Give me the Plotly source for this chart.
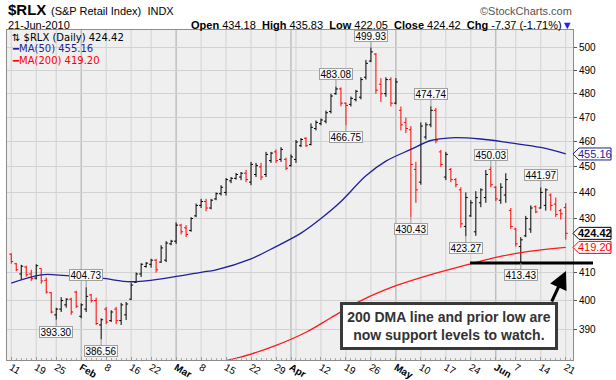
import math
import pandas as pd
import plotly.graph_objects as go

# ---------------- data ----------------
holidays = ["2010-01-18", "2010-02-15", "2010-04-02", "2010-05-31"]
trading_days = [d.strftime("%Y-%m-%d") for d in pd.bdate_range("2010-01-11", "2010-06-21")
                if d.strftime("%Y-%m-%d") not in holidays]

opens = [
    416.7, 413.2, 409.5, 412.0, 409.5, 408.0, 411.5, 407.2, 402.8, 395.0,
    397.0, 398.5, 400.5, 403.0, 394.5, 397.0, 402.0, 400.0, 391.5, 397.0,
    393.0, 397.0, 393.0, 395.0, 400.5, 406.5, 409.5, 412.2, 413.0, 414.5,
    413.8, 414.5, 420.5, 421.5, 427.5, 426.5, 425.5, 431.0, 435.0, 436.5,
    434.0, 437.5, 439.5, 440.0, 444.5, 445.5, 446.0, 447.5, 444.0, 447.0,
    450.0, 447.0, 452.5, 456.0, 453.0, 453.0, 450.5, 453.0, 458.5, 461.5,
    459.0, 465.5, 467.5, 468.5, 472.5, 480.0, 482.0, 476.0, 475.5, 477.5,
    478.5, 487.0, 494.0, 497.0, 484.0, 480.0, 486.0, 476.0, 473.0, 468.0,
    465.0, 449.0, 444.0, 462.0, 467.0, 473.0, 456.0, 446.0, 449.0, 445.0,
    441.0, 427.0, 431.0, 425.0, 436.0, 438.0, 449.0, 442.0, 437.0, 439.0,
    433.0, 426.0, 419.5, 423.5, 426.0, 434.5, 434.0, 435.0, 439.0, 435.5,
    433.0, 434.18]

highs = [
    417.0, 413.5, 412.8, 412.5, 411.0, 413.0, 411.5, 408.2, 403.0, 397.5,
    401.2, 400.8, 401.0, 403.5, 399.0, 404.73, 402.4, 401.0, 393.8, 397.8,
    396.6, 397.8, 399.2, 399.5, 406.3, 410.0, 413.4, 413.8, 415.0, 415.0,
    420.0, 421.5, 422.0, 428.5, 428.0, 427.5, 430.5, 435.7, 437.5, 437.5,
    437.5, 440.0, 442.8, 445.6, 446.0, 447.6, 448.0, 448.8, 452.0, 451.6,
    451.6, 456.0, 456.0, 457.0, 457.9, 453.7, 455.0, 460.8, 461.6, 462.0,
    467.6, 468.8, 469.6, 472.9, 480.0, 483.08, 482.7, 476.3, 478.8, 481.6,
    487.0, 494.5, 499.93, 497.5, 486.6, 487.0, 487.0, 486.6, 474.6, 470.0,
    466.5, 452.0, 468.0, 468.0, 474.74, 474.0, 456.8, 456.0, 449.6, 445.6,
    442.0, 440.0, 437.0, 440.5, 441.6, 448.8, 450.03, 442.5, 443.6, 447.5,
    434.0, 426.5, 423.0, 431.0, 435.0, 435.0, 441.97, 441.6, 439.6, 438.0,
    433.7, 435.83]

lows = [
    413.2, 410.5, 407.5, 408.5, 407.0, 407.5, 406.0, 402.5, 395.5, 393.3,
    396.0, 397.5, 395.0, 397.4, 393.8, 396.0, 399.3, 391.5, 386.56, 391.8,
    392.5, 391.8, 391.5, 393.2, 400.2, 406.3, 408.4, 411.8, 411.8, 410.0,
    413.5, 413.8, 420.0, 420.5, 424.0, 423.0, 425.0, 430.5, 434.0, 432.8,
    433.5, 437.0, 438.8, 438.8, 443.6, 445.0, 444.8, 444.0, 442.8, 446.0,
    444.8, 446.0, 451.6, 451.6, 452.0, 448.8, 450.1, 451.6, 457.9, 458.0,
    458.6, 464.7, 466.8, 467.6, 471.7, 479.5, 474.7, 466.75, 474.6, 476.7,
    477.6, 486.0, 493.5, 480.0, 476.5, 478.7, 474.6, 475.5, 464.7, 463.6,
    430.43, 436.0, 443.0, 461.0, 466.0, 459.5, 450.0, 444.8, 444.0, 442.0,
    426.5, 423.27, 430.6, 423.5, 434.3, 436.0, 442.0, 436.7, 435.6, 436.0,
    426.0, 419.5, 413.43, 423.0, 424.6, 432.0, 433.8, 433.0, 433.0, 430.6,
    429.6, 422.05]

closes = [
    414.0, 411.0, 412.3, 409.2, 407.8, 412.5, 407.0, 403.0, 396.0, 397.0,
    400.0, 400.5, 396.0, 398.0, 398.5, 401.5, 400.0, 392.0, 393.3, 392.5,
    396.0, 393.0, 398.5, 398.8, 405.5, 409.5, 413.0, 413.4, 414.5, 411.0,
    419.0, 420.8, 421.5, 427.5, 425.0, 424.0, 430.0, 435.0, 436.5, 434.0,
    437.0, 439.5, 442.0, 445.0, 445.5, 447.0, 447.5, 445.0, 451.0, 450.5,
    446.0, 455.0, 455.5, 452.5, 457.0, 449.5, 454.0, 460.0, 461.0, 458.5,
    466.0, 468.0, 469.0, 472.0, 479.0, 482.0, 476.0, 475.0, 478.0, 481.0,
    486.0, 493.0, 498.0, 481.5, 480.0, 486.0, 476.0, 485.0, 467.0, 465.5,
    451.0, 441.0, 466.5, 467.0, 473.0, 460.5, 451.0, 455.0, 445.0, 443.0,
    428.0, 438.0, 436.0, 438.0, 441.0, 447.0, 443.0, 437.5, 442.0, 445.0,
    427.0, 420.5, 422.0, 430.0, 434.0, 432.5, 440.0, 441.0, 435.0, 431.5,
    431.79, 424.42]

ma50_dates = ["2010-01-11", "2010-01-20", "2010-01-27", "2010-02-05", "2010-02-16", "2010-02-25",
              "2010-03-08", "2010-03-11", "2010-03-22", "2010-03-29", "2010-04-06", "2010-04-12",
              "2010-04-16", "2010-04-23", "2010-04-29", "2010-05-06", "2010-05-12", "2010-05-18",
              "2010-05-26", "2010-06-04", "2010-06-14", "2010-06-21"]
ma50_values = [406.2, 409.2, 408.9, 408.0, 406.7, 408.0,
               410.1, 411.0, 415.0, 419.5, 424.5, 430.0,
               436.5, 446.5, 452.3, 457.0, 460.6, 461.7,
               461.2, 459.6, 457.8, 455.16]

ma200_dates = ["2010-03-12", "2010-03-22", "2010-03-29", "2010-04-07", "2010-04-14", "2010-04-22",
               "2010-05-03", "2010-05-12", "2010-05-21", "2010-06-01", "2010-06-10", "2010-06-21"]
ma200_values = [379.0, 381.6, 384.5, 389.0, 394.0, 400.0,
                405.3, 409.3, 412.7, 415.5, 417.8, 419.20]

tick_dates = ["2010-01-11", "2010-01-19", "2010-01-25", "2010-02-01", "2010-02-08", "2010-02-16",
              "2010-02-22", "2010-03-01", "2010-03-08", "2010-03-15", "2010-03-22", "2010-03-29",
              "2010-04-01", "2010-04-12", "2010-04-19", "2010-04-26", "2010-05-03", "2010-05-10",
              "2010-05-17", "2010-05-24", "2010-06-01", "2010-06-07", "2010-06-14", "2010-06-21"]
tick_text = ["11", "19", "25", "<b>Feb</b>", "8", "16", "22", "<b>Mar</b>", "8", "15", "22", "29",
             "<b>Apr</b>", "12", "19", "26", "<b>May</b>", "10", "17", "24", "<b>Jun</b>", "7", "14", "21"]

ytick_values = [390, 400, 410, 430, 440, 450, 460, 470, 480, 490, 500]

label_dates = ["2010-04-26", "2010-04-15", "2010-04-19", "2010-05-12", "2010-05-06", "2010-05-28",
               "2010-05-21", "2010-06-14", "2010-06-08", "2010-02-02", "2010-01-25", "2010-02-05"]
label_values = [499.93, 483.08, 466.75, 474.74, 430.43, 450.03,
                423.27, 441.97, 413.43, 404.73, 393.30, 386.56]
label_side = ["H", "H", "L", "H", "L", "H", "L", "H", "L", "H", "L", "L"]

tag_values = [455.16, 424.42, 419.20]
tag_colors = ["#1f1f9a", "#000000", "#ff0000"]

support_level = 413.43

# ---------------- geometry ----------------
W_FIG, H_FIG = 616, 380
L, R, T, B = 7, 43, 30, 20
PW = W_FIG - L - R
PH = H_FIG - T - B
y_top, y_bot = 507.7, 379.6
k_ln = PH / math.log(y_top / y_bot)


def px(xp):
    return (xp - L) / PW


def py(yp):
    return (H_FIG - B - yp) / PH


idx = {d: i for i, d in enumerate(trading_days)}
xi = list(range(len(trading_days)))

FONT = "Liberation Sans, Arial, sans-serif"

fig = go.Figure()

# grid lines (weeks light, months dark)
shapes = []
week_lines, month_lines = [], []
for i, d in enumerate(trading_days):
    ts = pd.Timestamp(d)
    if i == 0:
        week_lines.append(i)
        continue
    pts = pd.Timestamp(trading_days[i - 1])
    if ts.month != pts.month:
        month_lines.append(i)
    if ts.isocalendar()[1] != pts.isocalendar()[1]:
        week_lines.append(i)
for i in week_lines:
    if i in month_lines:
        continue
    shapes.append(dict(type="line", xref="x", yref="paper", x0=i, x1=i, y0=0, y1=1,
                       line=dict(color="#d2d2d2", width=1), layer="below"))
for i in month_lines:
    shapes.append(dict(type="line", xref="x", yref="paper", x0=i, x1=i, y0=0, y1=1,
                       line=dict(color="#a8a8a8", width=1), layer="below"))

fig.add_trace(go.Ohlc(
    x=xi, open=opens, high=highs, low=lows, close=closes,
    increasing=dict(line=dict(color="black", width=1)),
    decreasing=dict(line=dict(color="red", width=1)),
    tickwidth=0.4, hoverinfo="skip"))

fig.add_trace(go.Scatter(x=[idx[d] for d in ma50_dates], y=ma50_values, mode="lines",
                         line=dict(color="#1f1f9a", width=1.3, shape="spline"), hoverinfo="skip"))
fig.add_trace(go.Scatter(x=[idx[d] for d in ma200_dates], y=ma200_values, mode="lines",
                         line=dict(color="#ff1a1a", width=1.3, shape="spline"), hoverinfo="skip"))

annotations = []

# high/low value labels
for d, v, s in zip(label_dates, label_values, label_side):
    annotations.append(dict(
        x=idx[d], y=math.log10(v), xref="x", yref="y", text=f"{v:.2f}",
        showarrow=True, arrowhead=0, arrowwidth=1, arrowcolor="#9a9a9a", standoff=0,
        ax=0, ay=-12 if s == "H" else 12,
        font=dict(family=FONT, size=10, color="black"),
        bgcolor="#fafafa", bordercolor="#a0a0a0", borderwidth=1, borderpad=0,
        width=32, height=10))

# right-side price tags
for v, c in zip(tag_values, tag_colors):
    h = 6.0
    yu = v * math.exp(h / k_ln)
    yd = v * math.exp(-h / k_ln)
    path = (f"M {px(573)},{v} L {px(579)},{yu} L {px(611)},{yu} "
            f"L {px(611)},{yd} L {px(579)},{yd} Z")
    shapes.append(dict(type="path", xref="paper", yref="y", path=path,
                       fillcolor="white", line=dict(color=c, width=1), layer="above"))
    txt = f"<b>{v:.2f}</b>" if c == "#000000" else f"{v:.2f}"
    annotations.append(dict(x=px(595), y=math.log10(v), xref="paper", yref="y", text=txt,
                            showarrow=False, xanchor="center", yanchor="middle",
                            font=dict(family=FONT, size=11, color=c)))

# support line
shapes.append(dict(type="line", xref="paper", yref="y", x0=px(470), x1=px(593),
                   y0=support_level, y1=support_level, line=dict(color="black", width=3),
                   layer="above"))

# arrow
annotations.append(dict(x=px(566), y=py(271), xref="paper", yref="paper", text="",
                        showarrow=True, arrowhead=2, arrowsize=1.2, arrowwidth=3,
                        arrowcolor="black", ax=-15, ay=32, standoff=0))

# comment box
annotations.append(dict(x=px(449), y=py(326), xref="paper", yref="paper",
                        text="<b>200 DMA line and prior low are<br>now support levels to watch.</b>",
                        showarrow=False, align="center", xanchor="center", yanchor="middle",
                        font=dict(family=FONT, size=14, color="#333333"),
                        bgcolor="white", bordercolor="#3a3a3a", borderwidth=3, borderpad=0,
                        width=212, height=42))

# in-plot legend
LEG = "DejaVu Sans, Verdana, sans-serif"
annotations.append(dict(x=px(10), y=py(37), xref="paper", yref="paper", xanchor="left",
                        yanchor="middle", showarrow=False,
                        text="⇅ $RLX (Daily) 424.42",
                        font=dict(family=LEG, size=10, color="black")))
annotations.append(dict(x=px(10), y=py(48.5), xref="paper", yref="paper", xanchor="left",
                        yanchor="middle", showarrow=False,
                        text="<b>━</b>MA(50) 455.16",
                        font=dict(family=LEG, size=10, color="#1f1f9a")))
annotations.append(dict(x=px(10), y=py(60), xref="paper", yref="paper", xanchor="left",
                        yanchor="middle", showarrow=False,
                        text="<b>━</b>MA(200) 419.20",
                        font=dict(family=LEG, size=10, color="#ff0000")))

# header
annotations.append(dict(x=px(6), y=py(9.5), xref="paper", yref="paper", xanchor="left",
                        yanchor="middle", showarrow=False,
                        text="<b>$RLX</b>",
                        font=dict(family=FONT, size=15, color="black")))
annotations.append(dict(x=px(49), y=py(10.5), xref="paper", yref="paper", xanchor="left",
                        yanchor="middle", showarrow=False,
                        text="(S&P Retail Index)  INDX",
                        font=dict(family=FONT, size=11, color="black")))
annotations.append(dict(x=px(574), y=py(10.5), xref="paper", yref="paper", xanchor="right",
                        yanchor="middle", showarrow=False,
                        text="©StockCharts.com",
                        font=dict(family=FONT, size=11, color="#555555")))
annotations.append(dict(x=px(6), y=py(25), xref="paper", yref="paper", xanchor="left",
                        yanchor="middle", showarrow=False,
                        text="21-Jun-2010",
                        font=dict(family=FONT, size=11, color="black")))
annotations.append(dict(x=px(575), y=py(25), xref="paper", yref="paper", xanchor="right",
                        yanchor="middle", showarrow=False,
                        text=("<b>Open</b> 434.18  <b>High</b> 435.83  <b>Low</b> 422.05  "
                              "<b>Close</b> 424.42  <b>Chg</b> -7.37 (-1.71%)"
                              "<span style='color:#2020ff'>▼</span>"),
                        font=dict(family=FONT, size=11, color="black")))

fig.update_layout(
    width=W_FIG, height=H_FIG,
    margin=dict(l=L, r=R, t=T, b=B, pad=0, autoexpand=False),
    paper_bgcolor="white", plot_bgcolor="#efefef",
    showlegend=False,
    shapes=shapes, annotations=annotations,
    font=dict(family=FONT, color="black"),
    xaxis=dict(range=[-0.85, 112.45], tickmode="array", automargin=False,
               tickvals=[idx[d] for d in tick_dates], ticktext=tick_text,
               showgrid=False, zeroline=False, showline=True, mirror=True,
               linecolor="#8c8c8c", linewidth=1,
               ticks="inside", ticklen=3, tickcolor="#999999",
               ticklabelstandoff=-3,
               tickfont=dict(family=FONT, size=10, color="black"),
               rangeslider=dict(visible=False),
               minor=dict(ticks="inside", ticklen=2, dtick=1, tick0=0, tickcolor="#aaaaaa",
                          showgrid=False)),
    yaxis=dict(type="log", range=[math.log10(y_bot), math.log10(y_top)], side="right",
               automargin=False,
               tickmode="array", tickvals=ytick_values,
               ticktext=[str(v) for v in ytick_values],
               showgrid=True, gridcolor="#d2d2d2", gridwidth=1, zeroline=False,
               showline=True, mirror=True, linecolor="#8c8c8c", linewidth=1,
               ticks="outside", ticklen=3, tickcolor="#555555",
               tickfont=dict(family=FONT, size=10, color="black")),
)

fig.write_html("out.html", config={"displayModeBar": False},
               post_script="document.body.style.margin='0px';")
